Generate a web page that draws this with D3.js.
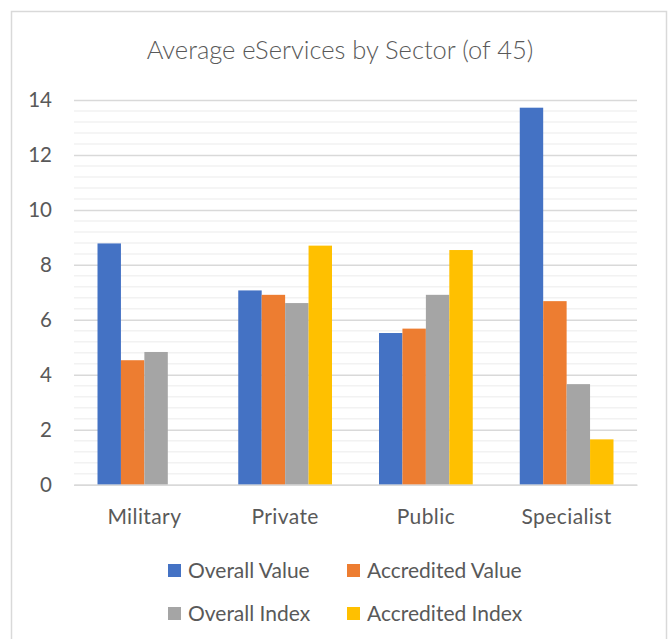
<!DOCTYPE html>
<html>
<head>
<meta charset="utf-8">
<script src="https://cdn.jsdelivr.net/npm/d3@7"></script>
<style>
  html, body { margin: 0; padding: 0; background: #fff; }
  svg { display: block; }
  text { font-family: Lato, "Open Sans", sans-serif; fill: #595959; }
</style>
</head>
<body>
<svg id="chart" width="669" height="639"></svg>
<script>
// Sector averages of eServices (out of 45)
const sectors = ["Military", "Private", "Public", "Specialist"];
const seriesNames = ["Overall Value", "Accredited Value", "Overall Index", "Accredited Index"];
const overallValue = [8.78, 7.07, 5.52, 13.72];
const accreditedValue = [4.53, 6.91, 5.68, 6.68];
const overallIndex = [4.83, 6.61, 6.91, 3.66];
const accreditedIndex = [0, 8.70, 8.54, 1.65];
const yTicks = [0, 2, 4, 6, 8, 10, 12, 14];
const colors = ["#4472c4", "#ed7d31", "#a5a5a5", "#ffc000"];

const seriesValues = [overallValue, accreditedValue, overallIndex, accreditedIndex];

const svg = d3.select("#chart");
const plot = { left: 74, right: 637, top: 100, bottom: 484.7 };

// chart area frame
svg.append("rect")
  .attr("x", 11.5).attr("y", 11.5)
  .attr("width", 655).attr("height", 640)
  .attr("fill", "#fff")
  .attr("stroke", "#d9d9d9")
  .attr("stroke-width", 1.5);

svg.append("text")
  .attr("x", 340).attr("y", 59)
  .attr("text-anchor", "middle")
  .style("font-size", "25.5px")
  .style("font-weight", 300)
  .text("Average eServices by Sector (of 45)");

const y = d3.scaleLinear().domain([0, 14]).range([plot.bottom, plot.top]);
const x0 = d3.scaleBand().domain(sectors).range([plot.left, plot.right])
  .paddingInner(0.334).paddingOuter(0.167);
const x1 = d3.scaleBand().domain(seriesNames).range([0, x0.bandwidth()]);

// minor gridlines every 0.4
const minorTicks = d3.range(0, 14.0001, 0.4).filter(v => Math.abs(v / 2 - Math.round(v / 2)) > 1e-6);
svg.append("g").selectAll("line").data(minorTicks).join("line")
  .attr("x1", plot.left).attr("x2", plot.right)
  .attr("y1", d => y(d)).attr("y2", d => y(d))
  .attr("stroke", "#f2f2f2").attr("stroke-width", 1.5);

// major gridlines + tick labels
const yAxis = d3.axisLeft(y).tickValues(yTicks).tickSize(-(plot.right - plot.left)).tickPadding(22);
const gy = svg.append("g").attr("transform", `translate(${plot.left},0)`).call(yAxis);
gy.select(".domain").remove();
gy.selectAll(".tick line").attr("stroke", "#d9d9d9").attr("stroke-width", 1.5);
gy.selectAll(".tick text").style("font-size", "20.5px").attr("fill", "#595959");

// bars
const groups = svg.append("g").selectAll("g").data(sectors).join("g")
  .attr("transform", d => `translate(${x0(d)},0)`);
groups.selectAll("rect")
  .data((d, i) => seriesNames.map((s, j) => ({ series: s, value: seriesValues[j][i], color: colors[j] })))
  .join("rect")
  .attr("x", d => x1(d.series))
  .attr("width", x1.bandwidth())
  .attr("y", d => y(d.value))
  .attr("height", d => y(0) - y(d.value))
  .attr("fill", d => d.color);

// category axis
const xAxis = d3.axisBottom(x0).tickSize(0).tickPadding(24);
const gx = svg.append("g").attr("transform", `translate(0,${plot.bottom})`).call(xAxis);
gx.select(".domain").attr("stroke", "#d9d9d9").attr("stroke-width", 1.5);
gx.selectAll(".tick text").style("font-size", "21px").style("letter-spacing", "0.4px").attr("fill", "#595959");

// legend, two rows of two
const legendItems = seriesNames.map((s, i) => ({ name: s, color: colors[i], col: i % 2, row: Math.floor(i / 2) }));
const legend = svg.append("g");
const colX = [168, 347];
const rowY = [571, 614];
const li = legend.selectAll("g").data(legendItems).join("g")
  .attr("transform", d => `translate(${colX[d.col]},${rowY[d.row]})`);
li.append("rect").attr("x", 0).attr("y", -7).attr("width", 13).attr("height", 13).attr("fill", d => d.color);
li.append("text").attr("x", 20).attr("y", 0).attr("dy", "0.35em")
  .style("font-size", "21px").text(d => d.name);
</script>
</body>
</html>
